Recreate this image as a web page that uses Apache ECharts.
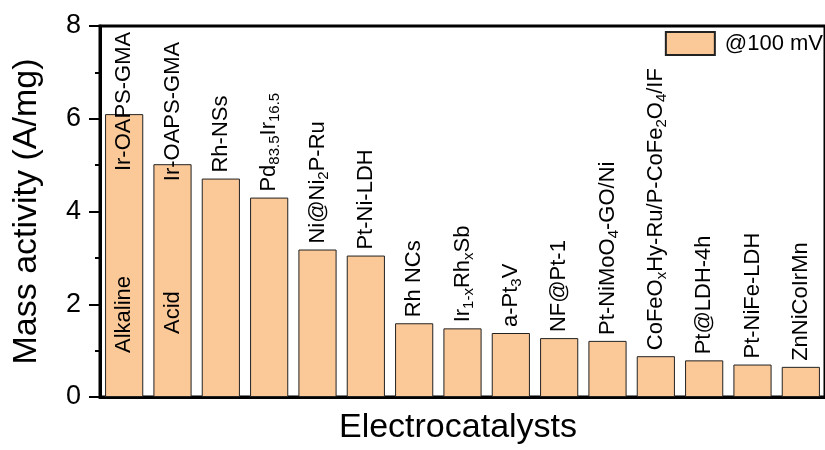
<!DOCTYPE html>
<html>
<head>
<meta charset="utf-8">
<script src="https://cdn.jsdelivr.net/npm/echarts@6/dist/echarts.min.js"></script>
<style>
  html, body { margin: 0; padding: 0; background: #fff; }
  #chart { width: 825px; height: 450px; }
</style>
</head>
<body>
<div id="chart"></div>
<script>
// Catalyst names ({s|...} marks a subscript)
const catalysts = [
  'Ir-OAPS-GMA',
  'Ir-OAPS-GMA',
  'Rh-NSs',
  'Pd{s|83.5}Ir{s|16.5}',
  'Ni@Ni{s|2}P-Ru',
  'Pt-Ni-LDH',
  'Rh NCs',
  'Ir{s|1-x}Rh{s|x}Sb',
  'a-Pt{s|3}V',
  'NF@Pt-1',
  'Pt-NiMoO{s|4}-GO/Ni',
  'CoFeO{s|x}Hy-Ru/P-CoFe{s|2}O{s|4}/IF',
  'Pt@LDH-4h',
  'Pt-NiFe-LDH',
  'ZnNiCoIrMn'
];

// Mass activity at 100 mV overpotential (A/mg)
const massActivity = [6.10, 5.02, 4.71, 4.30, 3.18, 3.05, 1.59, 1.48, 1.38, 1.27, 1.21, 0.88, 0.79, 0.70, 0.65];

// Electrolyte notes written inside the first two bars
const electrolyteNotes = ['Alkaline', 'Acid'];
const notePosition = [1.78, 1.82];

// Y axis ticks
const yTicks = [0, 2, 4, 6, 8];

const FONT = 'Liberation Sans, Arial, Helvetica, sans-serif';
const BAR_COLOR = '#FBC898';

const labelRich = {
  s: { fontSize: 15, fontFamily: FONT, color: '#000', padding: [12, 0, 0, 0] }
};

const barData = massActivity.map((v, i) => {
  const item = { value: v };
  // names of the first two bars sit partly inside the bar
  if (i === 0) item.label = { position: 'insideTop', distance: 57 };
  if (i === 1) item.label = { position: 'insideTop', distance: 17 };
  return item;
});

const chart = echarts.init(document.getElementById('chart'), null, { renderer: 'canvas' });

chart.setOption({
  animation: false,
  backgroundColor: '#fff',
  grid: {
    left: 100, right: -6, top: 26, bottom: 51,
    show: true, borderColor: '#000', borderWidth: 3, backgroundColor: 'transparent'
  },
  legend: {
    data: [{ name: '@100 mV', icon: 'rect' }],
    right: 2, top: 31,
    padding: 0,
    itemWidth: 49, itemHeight: 23,
    textStyle: { fontSize: 22, fontFamily: FONT, color: '#000', padding: [0, 0, 0, 5] }
  },
  xAxis: {
    type: 'category',
    data: catalysts,
    boundaryGap: true,
    name: 'Electrocatalysts',
    nameLocation: 'middle',
    nameGap: 14,
    nameTextStyle: { fontSize: 34, fontFamily: FONT, color: '#000', verticalAlign: 'top', padding: [0, 9, 0, 0] },
    axisLine: { show: true, lineStyle: { color: '#000', width: 3 } },
    axisTick: { show: false },
    axisLabel: { show: false },
    splitLine: { show: false }
  },
  yAxis: {
    type: 'value',
    min: yTicks[0], max: yTicks[yTicks.length - 1], interval: 2,
    name: 'Mass activity (A/mg)',
    nameLocation: 'middle',
    nameGap: 56,
    nameTextStyle: { fontSize: 34, fontFamily: FONT, color: '#000' },
    axisLine: { show: true, lineStyle: { color: '#000', width: 3 } },
    axisTick: { show: true, inside: false, length: 11, lineStyle: { color: '#000', width: 2 } },
    minorTick: { show: true, splitNumber: 2, length: 5, lineStyle: { color: '#000', width: 2 } },
    axisLabel: { fontSize: 27, fontFamily: FONT, color: '#000', margin: 19 },
    splitLine: { show: false }
  },
  series: [
    {
      name: '@100 mV',
      type: 'bar',
      data: barData,
      barCategoryGap: '21%',
      itemStyle: { color: BAR_COLOR, borderColor: '#222', borderWidth: 1 },
      label: {
        show: true,
        position: 'top',
        distance: 6,
        rotate: 90,
        align: 'left',
        verticalAlign: 'middle',
        fontSize: 22,
        fontFamily: FONT,
        color: '#000',
        rich: labelRich,
        formatter: p => catalysts[p.dataIndex]
      }
    },
    {
      name: 'notes',
      type: 'scatter',
      data: electrolyteNotes.map((t, i) => [i, notePosition[i]]),
      symbolSize: 1,
      itemStyle: { color: 'rgba(0,0,0,0)', opacity: 1 },
      silent: true,
      label: {
        show: true,
        position: 'inside',
        rotate: 90,
        align: 'center',
        verticalAlign: 'middle',
        fontSize: 22,
        fontFamily: FONT,
        color: '#000',
        opacity: 1,
        formatter: p => electrolyteNotes[p.dataIndex]
      }
    }
  ]
});
</script>
</body>
</html>
